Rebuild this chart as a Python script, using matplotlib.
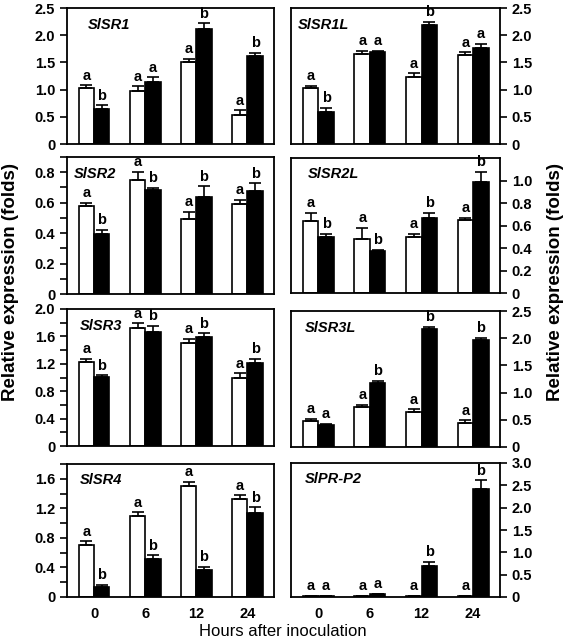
import numpy as np
import matplotlib
matplotlib.use("Agg")
import matplotlib.pyplot as plt
from matplotlib.ticker import MultipleLocator

plt.rcParams["font.family"] = ["Liberation Sans", "DejaVu Sans"]
plt.rcParams["font.weight"] = "bold"

HOURS = ["0", "6", "12", "24"]

# per gene: control (white) / inoculated (black) means, upper errors, letters
SR1_W = [1.03, 0.98, 1.51, 0.53]
SR1_B = [0.65, 1.14, 2.11, 1.61]
SR1_WE = [0.05, 0.08, 0.06, 0.09]
SR1_BE = [0.06, 0.085, 0.11, 0.06]
SR1_L = [("a", "b"), ("a", "a"), ("a", "b"), ("a", "b")]

SR1L_W = [1.03, 1.66, 1.24, 1.63]
SR1L_B = [0.58, 1.70, 2.18, 1.76]
SR1L_WE = [0.04, 0.055, 0.06, 0.055]
SR1L_BE = [0.08, 0.01, 0.07, 0.075]
SR1L_L = [("a", "b"), ("a", "a"), ("a", "b"), ("a", "a")]

SR2_W = [0.58, 0.75, 0.495, 0.588]
SR2_B = [0.395, 0.683, 0.64, 0.676]
SR2_WE = [0.02, 0.05, 0.045, 0.03]
SR2_BE = [0.027, 0.015, 0.067, 0.05]
SR2_L = [("a", "b"), ("a", "b"), ("a", "b"), ("a", "b")]

SR2L_W = [0.64, 0.48, 0.50, 0.65]
SR2L_B = [0.50, 0.37, 0.67, 0.99]
SR2L_WE = [0.07, 0.10, 0.025, 0.02]
SR2L_BE = [0.025, 0.015, 0.04, 0.09]
SR2L_L = [("a", "b"), ("a", "b"), ("a", "b"), ("a", "b")]

SR3_W = [1.22, 1.72, 1.50, 0.995]
SR3_B = [1.01, 1.67, 1.59, 1.21]
SR3_WE = [0.05, 0.07, 0.06, 0.065]
SR3_BE = [0.02, 0.08, 0.055, 0.06]
SR3_L = [("a", "b"), ("a", "b"), ("a", "b"), ("a", "b")]

SR3L_W = [0.47, 0.73, 0.64, 0.45]
SR3L_B = [0.41, 1.17, 2.17, 1.96]
SR3L_WE = [0.05, 0.05, 0.05, 0.04]
SR3L_BE = [0.02, 0.05, 0.04, 0.04]
SR3L_L = [("a", "a"), ("a", "b"), ("a", "b"), ("a", "b")]

SR4_W = [0.71, 1.10, 1.50, 1.33]
SR4_B = [0.135, 0.52, 0.37, 1.14]
SR4_WE = [0.045, 0.045, 0.06, 0.045]
SR4_BE = [0.03, 0.045, 0.035, 0.075]
SR4_L = [("a", "b"), ("a", "b"), ("a", "b"), ("a", "b")]

PR2_W = [0.02, 0.03, 0.02, 0.02]
PR2_B = [0.02, 0.06, 0.70, 2.42]
PR2_WE = [0.0, 0.0, 0.0, 0.0]
PR2_BE = [0.0, 0.01, 0.09, 0.19]
PR2_L = [("a", "a"), ("a", "a"), ("a", "b"), ("a", "b")]

fig = plt.figure(figsize=(5.67, 6.44), dpi=100)


def rect(x0, y0, x1, y1):
    return [x0 / 567, 1 - y1 / 644, (x1 - x0) / 567, (y1 - y0) / 644]


def panel(pos, name, name_x, w, b, we, be, letters, ymax, major, minor, side,
          bottom=False, maxlab=None):
    ax = fig.add_axes(pos)
    xs = np.arange(len(w))
    bw = 0.30
    ek = dict(elinewidth=1.2, capsize=4, capthick=1.2, ecolor="black")
    ax.bar(xs - bw / 2, w, bw, color="white", edgecolor="black", linewidth=1.2,
           yerr=[np.zeros(len(w)), we], error_kw=ek, zorder=2)
    ax.bar(xs + bw / 2, b, bw, color="black", edgecolor="black", linewidth=1.2,
           yerr=[np.zeros(len(b)), be], error_kw=ek, zorder=2)
    off = ymax * 0.02
    for i in range(len(w)):
        ax.text(xs[i] - bw / 2, w[i] + we[i] + off, letters[i][0], ha="center",
                va="bottom", fontsize=10.5, fontweight="bold")
        ax.text(xs[i] + bw / 2, b[i] + be[i] + off, letters[i][1], ha="center",
                va="bottom", fontsize=10.5, fontweight="bold")
    ax.set_xlim(-0.53, 3.52)
    ax.set_ylim(0, ymax)
    top = maxlab if maxlab is not None else ymax
    ticks = np.arange(0, top + 1e-9, major)
    ax.set_yticks(ticks)
    ax.set_yticklabels(["0" if t == 0 else f"{t:.1f}" for t in ticks])
    if minor:
        ax.yaxis.set_minor_locator(MultipleLocator(minor))
    for sp in ax.spines.values():
        sp.set_linewidth(1.3)
    ax.tick_params(axis="y", which="both", direction="out", width=1.2, length=5,
                   labelsize=10.5, left=(side == "left"), right=(side == "right"),
                   labelleft=(side == "left"), labelright=(side == "right"))
    ax.tick_params(axis="x", length=0, labelsize=10.5, pad=7)
    ax.set_xticks(xs)
    ax.set_xticklabels(HOURS if bottom else [])
    for lab in ax.get_yticklabels() + ax.get_xticklabels():
        lab.set_fontweight("bold")
    ax.text(name_x, 0.93, name, transform=ax.transAxes, ha="left", va="top",
            fontsize=10.5, fontweight="bold", style="italic")
    return ax


LX0, LX1 = 67, 274
RX0, RX1 = 291, 500

panel(rect(LX0, 8, LX1, 144), "SlSR1", 0.10, SR1_W, SR1_B, SR1_WE, SR1_BE, SR1_L,
      2.5, 0.5, None, "left")
panel(rect(RX0, 8, RX1, 144), "SlSR1L", 0.035, SR1L_W, SR1L_B, SR1L_WE, SR1L_BE, SR1L_L,
      2.5, 0.5, None, "right")
panel(rect(LX0, 157, LX1, 294), "SlSR2", 0.035, SR2_W, SR2_B, SR2_WE, SR2_BE, SR2_L,
      0.9, 0.2, 0.1, "left", maxlab=0.8)
panel(rect(RX0, 158, RX1, 293), "SlSR2L", 0.08, SR2L_W, SR2L_B, SR2L_WE, SR2L_BE, SR2L_L,
      1.2, 0.2, None, "right", maxlab=1.0)
panel(rect(LX0, 309, LX1, 446), "SlSR3", 0.06, SR3_W, SR3_B, SR3_WE, SR3_BE, SR3_L,
      2.0, 0.4, 0.2, "left")
panel(rect(RX0, 311, RX1, 447), "SlSR3L", 0.067, SR3L_W, SR3L_B, SR3L_WE, SR3L_BE, SR3L_L,
      2.5, 0.5, None, "right")
panel(rect(LX0, 464, LX1, 597), "SlSR4", 0.063, SR4_W, SR4_B, SR4_WE, SR4_BE, SR4_L,
      1.8, 0.4, 0.2, "left", bottom=True, maxlab=1.6)
panel(rect(RX0, 463, RX1, 597), "SlPR-P2", 0.067, PR2_W, PR2_B, PR2_WE, PR2_BE, PR2_L,
      3.0, 0.5, None, "right", bottom=True)

fig.text(11 / 567, 1 - 282 / 644, "Relative expression (folds)", rotation=90,
         ha="center", va="center", fontsize=13.5, fontweight="bold")
fig.text(556 / 567, 1 - 282 / 644, "Relative expression (folds)", rotation=90,
         ha="center", va="center", fontsize=13.5, fontweight="bold")
fig.text(283 / 567, 1 - 631 / 644, "Hours after inoculation", ha="center",
         va="center", fontsize=12, fontweight="normal")

fig.savefig("out.png", dpi=100)
